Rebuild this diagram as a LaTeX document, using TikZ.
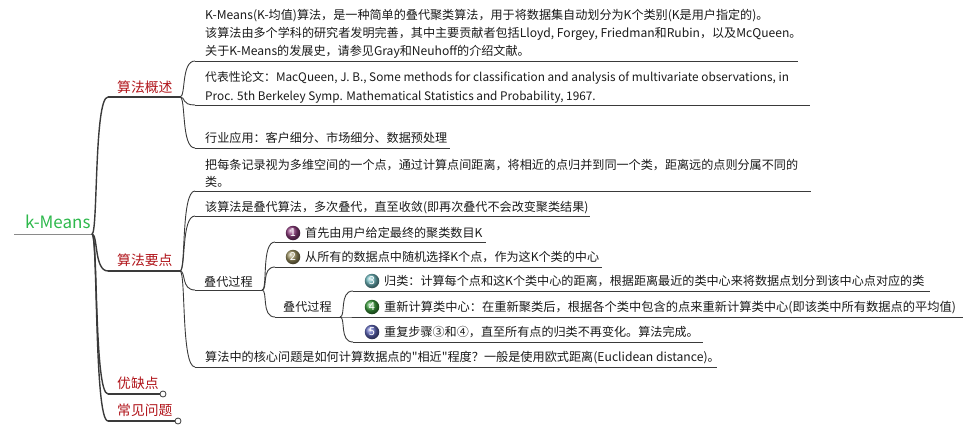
\documentclass[tikz,border=0pt]{standalone}
\usepackage{fontspec}
\setmainfont{Noto Sans CJK SC}[Ligatures=TeXOff]
\usetikzlibrary{calc}
\definecolor{txtc}{HTML}{1A1A1A}
\definecolor{redc}{HTML}{B0141A}
\definecolor{greenc}{HTML}{2DB84B}
\definecolor{linec}{HTML}{3A3A3A}
\definecolor{rootul}{HTML}{8A8A8A}
\definecolor{icoA}{HTML}{8E3C7E}
\definecolor{icoB}{HTML}{9A9060}
\definecolor{icoC}{HTML}{6FB8BE}
\definecolor{icoD}{HTML}{3A9C3C}
\definecolor{icoE}{HTML}{6068BC}
\tikzset{
  txtnode/.style={anchor=base west, inner sep=0pt, font=\fontsize{12.1}{14}\selectfont, text=txtc},
  latnode/.style={txtnode, font=\fontsize{11.8}{14}\selectfont},
  widenode/.style={txtnode, font=\fontsize{12.25}{14}\selectfont},
  corenode/.style={txtnode, font=\fontsize{12.15}{14}\selectfont},
  lbl/.style={anchor=base west, inner sep=0pt, font=\fontsize{13.8}{16}\selectfont, text=redc},
  ulline/.style={draw=linec, line width=0.9pt},
  brline/.style={draw=linec, line width=0.9pt},
  rootbr/.style={draw=linec, line width=1.4pt},
  ico/.style={circle, inner sep=0pt, minimum size=14.5pt, shading=ball, ball color=#1, text=white, font=\fontsize{11}{11}\selectfont},
  knob/.style={circle, draw=linec, fill=white, inner sep=0pt, minimum size=6pt, line width=0.8pt}
}
\newcommand{\conn}[3][brline]{\draw[#1] (#2) .. controls +(6,0) and +(-14,0) .. (#3);}
\begin{document}
\begin{tikzpicture}[x=1pt,y=-1pt]
\useasboundingbox (0,0) rectangle (965,433);
% root
\node[anchor=base west, inner sep=0pt, font=\fontsize{17}{20}\selectfont, text=greenc] (root) at (25,228) {k-Means};
\coordinate (r0) at (14,234); \coordinate (r1) at (92,234);
\draw[draw=rootul, line width=1pt] (r0) -- (r1);
% main branches
\node[lbl] (A) at (117,92.5) {算法概述};
\coordinate (A0) at (108,97); \coordinate (A1) at (180,97);
\node[lbl] (B) at (117,265.5) {算法要点};
\coordinate (B0) at (108,271); \coordinate (B1) at (180,271);
\node[lbl] (C) at (117,388.5) {优缺点};
\coordinate (C0) at (108,394); \coordinate (C1) at (160,394);
\node[knob] (Ck) at (163,394) {};
\node[lbl] (D) at (117,415.5) {常见问题};
\coordinate (D0) at (108,421); \coordinate (D1) at (175,421);
\node[knob] (Dk) at (178,421) {};
\foreach \a/\b in {A0/A1,B0/B1,C0/C1,D0/D1} \draw[rootbr] (\a) -- (\b);
\conn[rootbr]{r1}{A0}
\conn[rootbr]{r1}{B0}
\conn[rootbr]{r1}{C0}
\conn[rootbr]{r1}{D0}
% children of A
\node[txtnode] (a1a) at (205,20) {K-Means(K-均值)算法，是一种简单的叠代聚类算法，用于将数据集自动划分为K个类别(K是用户指定的)。};
\node[txtnode] (a1b) at (205,38) {该算法由多个学科的研究者发明完善，其中主要贡献者包括Lloyd, Forgey, Friedman和Rubin，以及McQueen。};
\node[txtnode] (a1c) at (205,56) {关于K-Means的发展史，请参见Gray和Neuhoff的介绍文献。};
\coordinate (a10) at (195,61); \coordinate (a11) at (798,61);
\node[latnode] (a2a) at (205,82) {代表性论文：MacQueen, J. B., Some methods for classification and analysis of multivariate observations, in};
\node[latnode] (a2b) at (205,100) {Proc. 5th Berkeley Symp. Mathematical Statistics and Probability, 1967.};
\coordinate (a20) at (195,105); \coordinate (a21) at (810,105);
\node[txtnode] (a3) at (205,142) {行业应用：客户细分、市场细分、数据预处理};
\coordinate (a30) at (195,148); \coordinate (a31) at (450,148);
\foreach \a/\b in {a10/a11,a20/a21,a30/a31} \draw[ulline] (\a) -- (\b);
\conn{A1}{a10}
\conn{A1}{a20}
\conn{A1}{a30}
% children of B
\node[txtnode] (b1a) at (205,169) {把每条记录视为多维空间的一个点，通过计算点间距离，将相近的点归并到同一个类，距离远的点则分属不同的};
\node[txtnode] (b1b) at (205,186.5) {类。};
\coordinate (b10) at (195,191); \coordinate (b11) at (811,191);
\node[txtnode] (b2) at (205,211) {该算法是叠代算法，多次叠代，直至收敛(即再次叠代不会改变聚类结果)};
\coordinate (b20) at (195,216); \coordinate (b21) at (590,216);
\node[txtnode] (b3) at (204,286) {叠代过程};
\coordinate (b30) at (195,290); \coordinate (b31) at (262,290);
\node[corenode] (b4) at (205,361) {算法中的核心问题是如何计算数据点的"相近"程度？一般是使用欧式距离(Euclidean distance)。};
\coordinate (b40) at (195,367); \coordinate (b41) at (717,367);
\foreach \a/\b in {b10/b11,b20/b21,b30/b31,b40/b41} \draw[ulline] (\a) -- (\b);
\conn{B1}{b10}
\conn{B1}{b20}
\conn{B1}{b30}
\conn{B1}{b40}
% children of b3
\node[ico=icoA] (i1) at (293,233) {1};
\node[txtnode] (c1) at (305,237) {首先由用户给定最终的聚类数目K};
\coordinate (c10) at (275,242); \coordinate (c11) at (486,242);
\node[ico=icoB] (i2) at (293,257) {2};
\node[txtnode] (c2) at (305,261) {从所有的数据点中随机选择K个点，作为这K个类的中心};
\coordinate (c20) at (275,267); \coordinate (c21) at (602,267);
\node[txtnode] (c3) at (283,311) {叠代过程};
\coordinate (c30) at (275,317); \coordinate (c31) at (340,317);
\foreach \a/\b in {c10/c11,c20/c21,c30/c31} \draw[ulline] (\a) -- (\b);
\conn{b31}{c10}
\conn{b31}{c20}
\conn{b31}{c30}
% children of c3
\node[ico=icoC] (i3) at (372,281) {3};
\node[txtnode] (d1) at (384,285) {归类：计算每个点和这K个类中心的距离，根据距离最近的类中心来将数据点划分到该中心点对应的类};
\coordinate (d10) at (353,291); \coordinate (d11) at (930,291);
\node[ico=icoD] (i4) at (372,307) {4};
\node[widenode] (d2) at (384,311) {重新计算类中心：在重新聚类后，根据各个类中包含的点来重新计算类中心(即该类中所有数据点的平均值)};
\coordinate (d20) at (353,317); \coordinate (d21) at (963,317);
\node[ico=icoE] (i5) at (372,332) {5};
\node[txtnode] (d3) at (384,336) {重复步骤③和④，直至所有点的归类不再变化。算法完成。};
\coordinate (d30) at (353,342); \coordinate (d31) at (703,342);
\foreach \a/\b in {d10/d11,d20/d21,d30/d31} \draw[ulline] (\a) -- (\b);
\conn{c31}{d10}
\conn{c31}{d20}
\conn{c31}{d30}
\end{tikzpicture}
\end{document}
